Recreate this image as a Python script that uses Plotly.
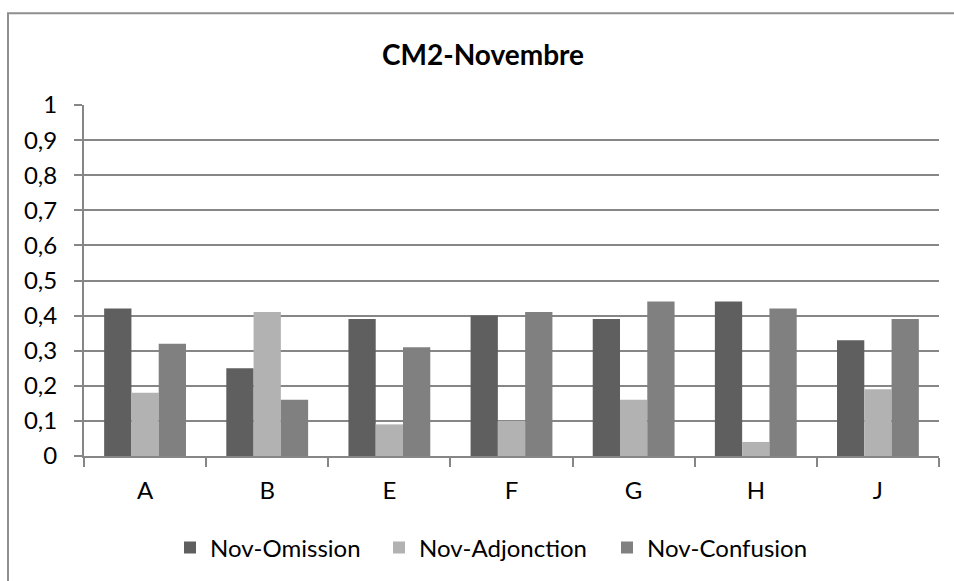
import plotly.graph_objects as go

categories = ["A", "B", "E", "F", "G", "H", "J"]
omission = [0.42, 0.25, 0.39, 0.40, 0.39, 0.44, 0.33]
adjonction = [0.18, 0.41, 0.09, 0.10, 0.16, 0.04, 0.19]
confusion = [0.32, 0.16, 0.31, 0.41, 0.44, 0.42, 0.39]
series_names = ["Nov-Omission", "Nov-Adjonction", "Nov-Confusion"]
colors = ["#5f5f5f", "#b2b2b2", "#808080"]
title_text = "CM2-Novembre"

FONT = "Lato"
FS = 24
W, H = 954, 581
ml, mr, mt, mb = 84, 15, 105, 124
pw, ph = W - ml - mr, H - mt - mb

def px_x(x):
    return (x - ml) / pw

def px_y(y):
    return (H - mb - y) / ph

legend_ids = ["legend", "legend2", "legend3"]
legend_left_px = [170, 379, 607]

fig = go.Figure()
for name, vals, col, lg in zip(series_names, [omission, adjonction, confusion], colors, legend_ids):
    fig.add_trace(go.Bar(x=categories, y=vals, name=name, legend=lg, showlegend=True,
                         marker=dict(color=col, line=dict(width=0))))

axis_col = "#868686"
legend_common = dict(orientation="h", xanchor="left", y=px_y(548), yanchor="middle",
                     font=dict(family=FONT, size=FS, color="black"),
                     bgcolor="rgba(0,0,0,0)", borderwidth=0)
layout_legends = {lg: dict(x=px_x(xl), visible=True, **legend_common)
                  for lg, xl in zip(legend_ids, legend_left_px)}

fig.update_layout(
    width=W, height=H,
    margin=dict(l=ml, r=mr, t=mt, b=mb),
    paper_bgcolor="white", plot_bgcolor="white",
    separators=", ",
    showlegend=True,
    font=dict(family=FONT, size=FS, color="black"),
    barmode="group", bargap=0.33, bargroupgap=0,
    title=dict(text="<b>" + title_text + "</b>", font=dict(family=FONT, size=28, color="black"),
               x=px_x(483), xref="paper", xanchor="center",
               y=1 - 55 / H, yref="container", yanchor="middle"),
    xaxis=dict(showline=True, linecolor=axis_col, linewidth=2,
               ticks="outside", ticklen=9, tickwidth=2, tickcolor=axis_col,
               tickson="boundaries", showgrid=False,
               ticklabelstandoff=12,
               tickfont=dict(family=FONT, size=FS)),
    yaxis=dict(range=[0, 1], dtick=0.1, tick0=0,
               showgrid=True, gridcolor=axis_col, gridwidth=1.5,
               showline=True, linecolor=axis_col, linewidth=2,
               ticks="outside", ticklen=8, tickwidth=2, tickcolor=axis_col,
               ticklabelstandoff=12, zeroline=False,
               tickfont=dict(family=FONT, size=FS)),
    shapes=[dict(type="rect", xref="paper", yref="paper",
                 x0=px_x(8), x1=px_x(970), y0=px_y(600), y1=px_y(13),
                 line=dict(color="#8e8e8e", width=2), layer="below")],
    **layout_legends,
)

fig.write_html("out.html",
               config={"displayModeBar": False},
               post_script="document.body.style.margin='0';document.documentElement.style.overflow='hidden';document.body.style.overflow='hidden';")
